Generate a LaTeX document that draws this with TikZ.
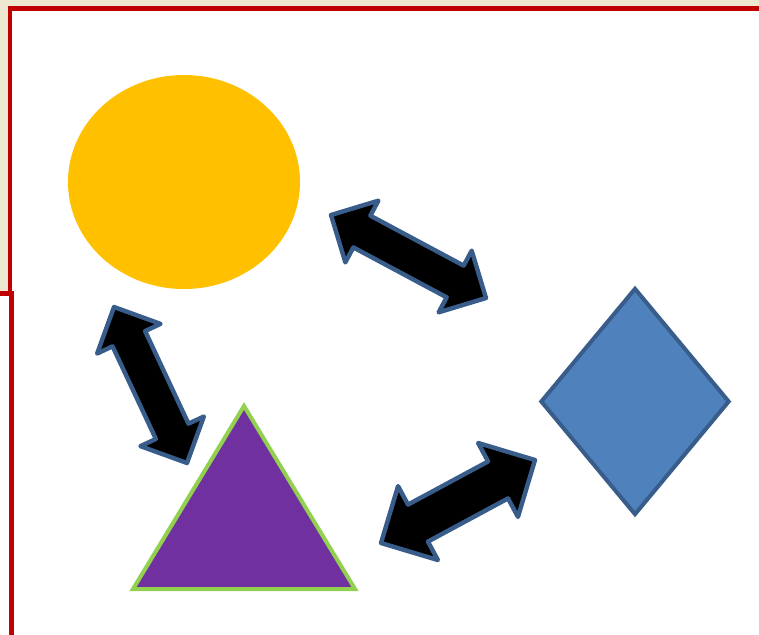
\documentclass[tikz,border=0pt]{standalone}
\usepackage{xcolor}
\usepackage{tikz}
\usetikzlibrary{calc,shapes.geometric}
\definecolor{parchment}{HTML}{EEE8D1}
\definecolor{frame}{HTML}{C00000}
\definecolor{sun}{HTML}{FFC000}
\definecolor{steel}{HTML}{4F81BD}
\definecolor{steeldark}{HTML}{385D8A}
\definecolor{plum}{HTML}{7030A0}
\definecolor{leaf}{HTML}{92D050}
\tikzset{
  sheet/.style={draw=frame,fill=white,line width=2.4pt},
  oval/.style={ellipse,fill=sun,inner sep=0pt,minimum width=116pt,minimum height=107pt},
  rhomb/.style={diamond,draw=steeldark,fill=steel,line width=2pt,inner sep=0pt,minimum width=94.5pt,minimum height=113.5pt},
  tri/.style={draw=leaf,fill=plum,line width=2pt},
  blockarrow/.style={draw=steeldark,fill=black,line width=2.2pt,line join=round},
}
% #1,#2 tips, #3 head size, #4 half shaft width
\newcommand{\dblarrow}[4]{%
  \draw[blockarrow] (#1)
    -- ($(#1)!#3!(#2)!#3!90:(#2)$) -- ($(#1)!#3!(#2)!#4!90:(#2)$)
    -- ($(#2)!#3!(#1)!#4!-90:(#1)$) -- ($(#2)!#3!(#1)!#3!-90:(#1)$)
    -- (#2)
    -- ($(#2)!#3!(#1)!#3!90:(#1)$) -- ($(#2)!#3!(#1)!#4!90:(#1)$)
    -- ($(#1)!#3!(#2)!#4!-90:(#2)$) -- ($(#1)!#3!(#2)!#3!-90:(#2)$)
    -- cycle;
}
\begin{document}
\begin{tikzpicture}[x=0.5pt,y=-0.5pt]
    \useasboundingbox (0,0) rectangle (759,634);
    \fill[parchment] (0,0) rectangle (759,634);
    \draw[sheet] (10,8.5) rectangle (780,660);
    \draw[sheet] (-20,293.7) rectangle (11.7,660);
    % shapes
    \node[oval] (oval) at (184,182) {};
    \node[rhomb] (rhomb) at (635,401.5) {};
    \coordinate (triTop) at (244,406);
    \coordinate (triLeft) at (133,589);
    \coordinate (triRight) at (355,589);
    \draw[tri] (triTop) -- (triRight) -- (triLeft) -- cycle;
    % arrows
    \coordinate (ovalE) at (331,215);
    \coordinate (rhombW) at (486,298);
    \coordinate (ovalS) at (114,307);
    \coordinate (triN) at (187,463);
    \coordinate (triE) at (381,543);
    \coordinate (rhombSW) at (535,460);
    \dblarrow{ovalE}{rhombW}{17.5pt}{9pt}
    \dblarrow{ovalS}{triN}{17.5pt}{9pt}
    \dblarrow{triE}{rhombSW}{21pt}{10.5pt}
\end{tikzpicture}
\end{document}
